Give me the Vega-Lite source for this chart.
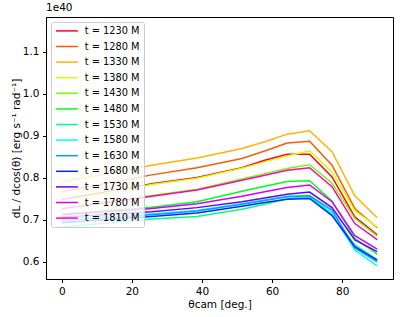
{
  "$schema": "https://vega.github.io/schema/vega-lite/v6.json",
  "width": 347,
  "height": 262,
  "autosize": {"type": "none"},
  "padding": {"left": 46, "top": 17, "right": 14, "bottom": 38},
  "title": {"text": "1e40", "anchor": "start", "frame": "group", "fontSize": 10.5, "font": "DejaVu Sans", "fontWeight": "normal", "offset": 4, "color": "black"},
  "config": {
    "font": "DejaVu Sans",
    "view": {"stroke": "black", "strokeWidth": 1},
    "axis": {"grid": false, "domainColor": "black", "tickColor": "black", "tickSize": 3.5, "labelColor": "black", "labelFont": "DejaVu Sans", "labelFontSize": 10.5, "titleFont": "DejaVu Sans", "titleFontSize": 10.5, "titleFontWeight": "normal", "titleColor": "black", "labelPadding": 3.5}
  },
  "datasets": {
    "curves": [
      {"t":1230,"theta":0,"v":0.748},{"t":1230,"theta":25.7,"v":0.786},{"t":1230,"theta":38.6,"v":0.801},{"t":1230,"theta":51.4,"v":0.824},{"t":1230,"theta":57.9,"v":0.842},{"t":1230,"theta":64.3,"v":0.856},{"t":1230,"theta":70.7,"v":0.856},{"t":1230,"theta":77.1,"v":0.802},{"t":1230,"theta":83.6,"v":0.707},{"t":1230,"theta":90,"v":0.664},
      {"t":1280,"theta":0,"v":0.767},{"t":1280,"theta":25.7,"v":0.807},{"t":1280,"theta":38.6,"v":0.824},{"t":1280,"theta":51.4,"v":0.846},{"t":1280,"theta":57.9,"v":0.864},{"t":1280,"theta":64.3,"v":0.883},{"t":1280,"theta":70.7,"v":0.887},{"t":1280,"theta":77.1,"v":0.830},{"t":1280,"theta":83.6,"v":0.727},{"t":1280,"theta":90,"v":0.681},
      {"t":1330,"theta":0,"v":0.790},{"t":1330,"theta":25.7,"v":0.830},{"t":1330,"theta":38.6,"v":0.847},{"t":1330,"theta":51.4,"v":0.870},{"t":1330,"theta":57.9,"v":0.886},{"t":1330,"theta":64.3,"v":0.904},{"t":1330,"theta":70.7,"v":0.912},{"t":1330,"theta":77.1,"v":0.862},{"t":1330,"theta":83.6,"v":0.757},{"t":1330,"theta":90,"v":0.705},
      {"t":1380,"theta":0,"v":0.745},{"t":1380,"theta":25.7,"v":0.784},{"t":1380,"theta":38.6,"v":0.799},{"t":1380,"theta":51.4,"v":0.823},{"t":1380,"theta":57.9,"v":0.838},{"t":1380,"theta":64.3,"v":0.852},{"t":1380,"theta":70.7,"v":0.864},{"t":1380,"theta":77.1,"v":0.814},{"t":1380,"theta":83.6,"v":0.721},{"t":1380,"theta":90,"v":0.683},
      {"t":1430,"theta":0,"v":0.728},{"t":1430,"theta":25.7,"v":0.758},{"t":1430,"theta":38.6,"v":0.773},{"t":1430,"theta":51.4,"v":0.797},{"t":1430,"theta":57.9,"v":0.810},{"t":1430,"theta":64.3,"v":0.822},{"t":1430,"theta":70.7,"v":0.831},{"t":1430,"theta":77.1,"v":0.787},{"t":1430,"theta":83.6,"v":0.703},{"t":1430,"theta":90,"v":0.661},
      {"t":1480,"theta":0,"v":0.714},{"t":1480,"theta":25.7,"v":0.730},{"t":1480,"theta":38.6,"v":0.743},{"t":1480,"theta":51.4,"v":0.768},{"t":1480,"theta":57.9,"v":0.780},{"t":1480,"theta":64.3,"v":0.791},{"t":1480,"theta":70.7,"v":0.793},{"t":1480,"theta":77.1,"v":0.745},{"t":1480,"theta":83.6,"v":0.656},{"t":1480,"theta":90,"v":0.618},
      {"t":1530,"theta":0,"v":0.683},{"t":1530,"theta":25.7,"v":0.702},{"t":1530,"theta":38.6,"v":0.708},{"t":1530,"theta":51.4,"v":0.725},{"t":1530,"theta":57.9,"v":0.737},{"t":1530,"theta":64.3,"v":0.750},{"t":1530,"theta":70.7,"v":0.755},{"t":1530,"theta":77.1,"v":0.712},{"t":1530,"theta":83.6,"v":0.640},{"t":1530,"theta":90,"v":0.605},
      {"t":1580,"theta":0,"v":0.700},{"t":1580,"theta":25.7,"v":0.714},{"t":1580,"theta":38.6,"v":0.722},{"t":1580,"theta":51.4,"v":0.738},{"t":1580,"theta":57.9,"v":0.747},{"t":1580,"theta":64.3,"v":0.756},{"t":1580,"theta":70.7,"v":0.758},{"t":1580,"theta":77.1,"v":0.716},{"t":1580,"theta":83.6,"v":0.628},{"t":1580,"theta":90,"v":0.590},
      {"t":1630,"theta":0,"v":0.698},{"t":1630,"theta":25.7,"v":0.712},{"t":1630,"theta":38.6,"v":0.721},{"t":1630,"theta":51.4,"v":0.737},{"t":1630,"theta":57.9,"v":0.746},{"t":1630,"theta":64.3,"v":0.755},{"t":1630,"theta":70.7,"v":0.757},{"t":1630,"theta":77.1,"v":0.723},{"t":1630,"theta":83.6,"v":0.633},{"t":1630,"theta":90,"v":0.600},
      {"t":1680,"theta":0,"v":0.693},{"t":1680,"theta":25.7,"v":0.708},{"t":1680,"theta":38.6,"v":0.716},{"t":1680,"theta":51.4,"v":0.732},{"t":1680,"theta":57.9,"v":0.741},{"t":1680,"theta":64.3,"v":0.749},{"t":1680,"theta":70.7,"v":0.751},{"t":1680,"theta":77.1,"v":0.710},{"t":1680,"theta":83.6,"v":0.636},{"t":1680,"theta":90,"v":0.604},
      {"t":1730,"theta":0,"v":0.706},{"t":1730,"theta":25.7,"v":0.719},{"t":1730,"theta":38.6,"v":0.729},{"t":1730,"theta":51.4,"v":0.743},{"t":1730,"theta":57.9,"v":0.752},{"t":1730,"theta":64.3,"v":0.761},{"t":1730,"theta":70.7,"v":0.766},{"t":1730,"theta":77.1,"v":0.729},{"t":1730,"theta":83.6,"v":0.652},{"t":1730,"theta":90,"v":0.624},
      {"t":1780,"theta":0,"v":0.712},{"t":1780,"theta":25.7,"v":0.727},{"t":1780,"theta":38.6,"v":0.738},{"t":1780,"theta":51.4,"v":0.756},{"t":1780,"theta":57.9,"v":0.767},{"t":1780,"theta":64.3,"v":0.777},{"t":1780,"theta":70.7,"v":0.783},{"t":1780,"theta":77.1,"v":0.743},{"t":1780,"theta":83.6,"v":0.662},{"t":1780,"theta":90,"v":0.630},
      {"t":1810,"theta":0,"v":0.726},{"t":1810,"theta":25.7,"v":0.756},{"t":1810,"theta":38.6,"v":0.771},{"t":1810,"theta":51.4,"v":0.794},{"t":1810,"theta":57.9,"v":0.806},{"t":1810,"theta":64.3,"v":0.818},{"t":1810,"theta":70.7,"v":0.824},{"t":1810,"theta":77.1,"v":0.779},{"t":1810,"theta":83.6,"v":0.691},{"t":1810,"theta":90,"v":0.653}
    ]
  },
  "data": {"name": "curves"},
  "mark": {"type": "line", "strokeWidth": 1.5, "clip": true},
  "encoding": {
    "x": {"field": "theta", "type": "quantitative", "scale": {"domain": [-4.5, 94.5], "nice": false, "zero": false}, "axis": {"values": [0, 20, 40, 60, 80], "title": "θcam [deg.]", "titlePadding": 3}},
    "y": {"field": "v", "type": "quantitative", "scale": {"domain": [0.559, 1.183], "nice": false, "zero": false}, "axis": {"values": [0.6, 0.7, 0.8, 0.9, 1.0, 1.1], "format": ".1f", "title": "dL / dcos(θ)  [erg s⁻¹ rad⁻¹]", "titleX": -30, "titleBaseline": "middle"}},
    "color": {
      "field": "t", "type": "nominal",
      "scale": {"domain": [1230, 1280, 1330, 1380, 1430, 1480, 1530, 1580, 1630, 1680, 1730, 1780, 1810],
                "range": ["#ff0029", "#ff5a00", "#ffb400", "#d4ff00", "#6dff00", "#00ff13", "#00ff80", "#00ffee", "#009fff", "#0028ff", "#6200ff", "#d000ff", "#ff00bf"]},
      "legend": {"orient": "top-left", "offset": 5, "title": null, "labelExpr": "'t = ' + datum.label + ' M'", "strokeColor": "#cccccc", "fillColor": "rgba(255,255,255,0.8)", "cornerRadius": 2, "padding": 4, "symbolType": "M-4,0H4", "symbolSize": 30, "symbolStrokeWidth": 1.5, "symbolOffset": 7, "labelOffset": 13, "rowPadding": 4.6, "labelFontSize": 9.8, "labelFont": "DejaVu Sans", "labelColor": "black"}
    }
  }
}
